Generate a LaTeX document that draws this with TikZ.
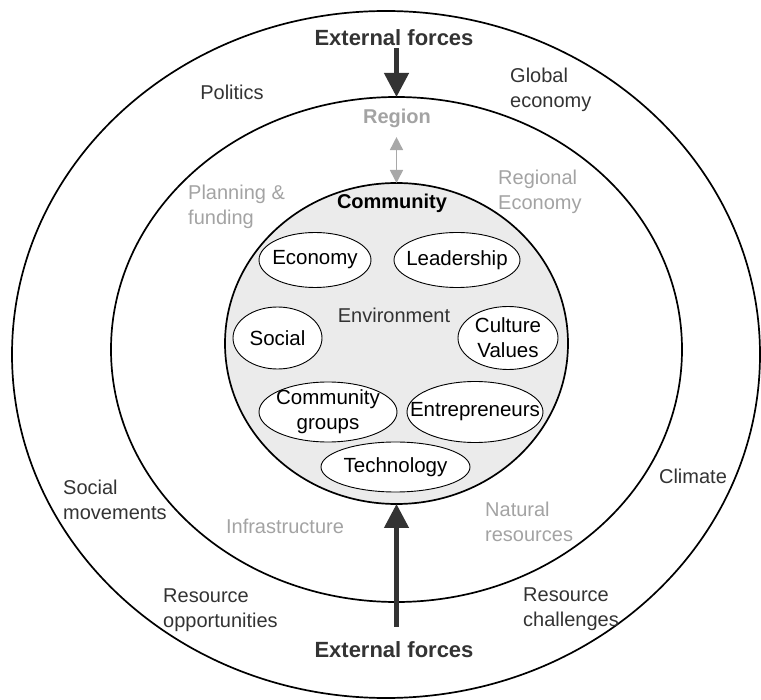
\documentclass[tikz,border=0pt]{standalone}
\usepackage{fontspec}
\setmainfont{Liberation Sans}
\usetikzlibrary{shapes.geometric,arrows.meta}
\definecolor{innerfill}{HTML}{EBEBEB}
\definecolor{lightlbl}{HTML}{A3A3A3}
\definecolor{darklbl}{HTML}{333333}
\definecolor{arrowdark}{HTML}{333333}
\definecolor{arrowlight}{HTML}{A8A8A8}
\begin{document}
\begin{tikzpicture}[x=1pt,y=-1pt,
  ring/.style={draw=black, line width=1.7pt, ellipse, inner sep=0pt, outer sep=0pt},
  smallell/.style={draw=black, line width=0.9pt, fill=white, ellipse, inner sep=0pt},
  lbl/.style={font=\fontsize{20}{25}\selectfont, text=darklbl, inner sep=0pt, align=left},
  glbl/.style={lbl, text=lightlbl},
  intext/.style={font=\fontsize{20.5}{25}\selectfont, text=black, inner sep=0pt, align=center},
  boldlbl/.style={font=\bfseries\fontsize{20}{25}\selectfont, inner sep=0pt},
  extlbl/.style={font=\bfseries\fontsize{22}{26}\selectfont, text=darklbl, inner sep=0pt},
  bigarrow/.style={draw=arrowdark, line width=4.5pt, -{Triangle[width=24pt,length=24pt]}},
  dblarrow/.style={draw=arrowlight, line width=1.6pt,
    {Triangle[width=13pt,length=13pt]}-{Triangle[width=13pt,length=13pt]}}
]
\useasboundingbox (0,0) rectangle (761,700);

% rings
\node[ring, minimum width=748pt, minimum height=687pt] (outer) at (386,354.5) {};
\node[ring, minimum width=571pt, minimum height=505pt] (mid) at (396.5,349.5) {};
\node[ring, fill=innerfill, minimum width=343pt, minimum height=321pt] (inner) at (396.5,343.5) {};

% small ellipses
\node[smallell, minimum width=112pt, minimum height=55pt] (econ) at (315,260) {};
\node[smallell, minimum width=126pt, minimum height=55pt] (lead) at (457,260) {};
\node[smallell, minimum width=89pt, minimum height=62pt] (soc) at (277.5,338) {};
\node[smallell, minimum width=100pt, minimum height=63pt] (cult) at (508,338) {};
\node[smallell, minimum width=138pt, minimum height=60pt] (cgrp) at (328,412) {};
\node[smallell, minimum width=136pt, minimum height=61pt] (entr) at (475,412) {};
\node[smallell, minimum width=149pt, minimum height=50pt] (tech) at (395.5,467) {};

% texts in small ellipses
\node[intext] (econt) at (econ) {Economy};
\node[intext] (leadt) at (lead) {Leadership};
\node[intext] (soct) at (soc) {Social};
\node[intext] (cultt) at (cult) {Culture\\Values};
\node[intext] (cgrpt) at (cgrp) {Community\\groups};
\node[intext] (entrt) at (entr) {Entrepreneurs};
\node[intext] (techt) at (tech) {Technology};

% inner labels
\node[boldlbl, text=black] (comm) at (392,203) {Community};
\node[lbl] (envt) at (394,315) {Environment};

% region labels (grey)
\node[boldlbl, text=lightlbl] (region) at (397,118) {Region};
\node[glbl, anchor=west] (plan) at (188,207) {Planning \&\\funding};
\node[glbl, anchor=west] (regeco) at (498,192) {Regional\\Economy};
\node[glbl] (infra) at (285,526) {Infrastructure};
\node[glbl, anchor=west] (natres) at (485,522) {Natural\\resources};

% outer labels
\node[lbl] (pol) at (232,92) {Politics};
\node[lbl, anchor=west] (globeco) at (510,90) {Global\\economy};
\node[lbl, anchor=west] (socmov) at (63,500) {Social\\movements};
\node[lbl] (clim) at (693,476) {Climate};
\node[lbl, anchor=west] (resopp) at (163,610) {Resource\\opportunities};
\node[lbl, anchor=west] (resch) at (523,609) {Resource\\challenges};

% external forces
\node[extlbl] (ext1) at (394,38) {External forces};
\node[extlbl] (ext2) at (394,650) {External forces};

% arrows
\draw[bigarrow, shorten <=2pt] (ext1.south -| mid.north) -- (mid.north);
\draw[bigarrow, shorten <=15pt] (ext2.north -| inner.south) -- (inner.south);
\draw[dblarrow, shorten <=9.5pt] (region.south -| inner.north) -- (inner.north);
\end{tikzpicture}
\end{document}
